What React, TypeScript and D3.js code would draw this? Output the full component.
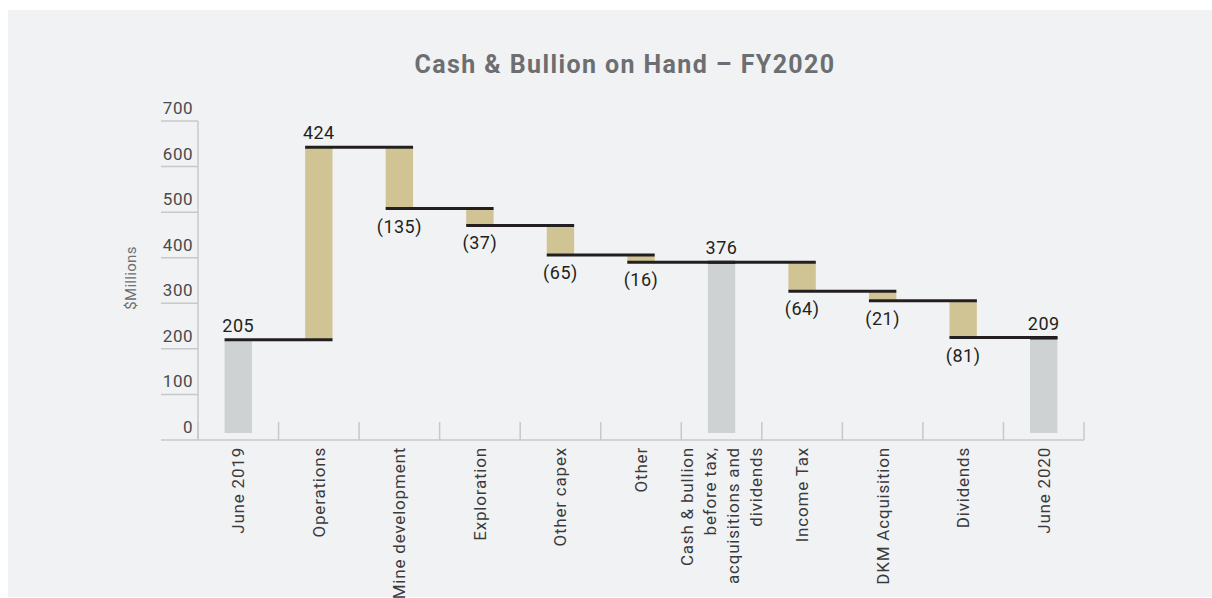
import React from "react";
import * as d3 from "d3";

const categories = [
  "June 2019",
  "Operations",
  "Mine development",
  "Exploration",
  "Other capex",
  "Other",
  "Cash & bullion|before tax,|acquisitions and|dividends",
  "Income Tax",
  "DKM Acquisition",
  "Dividends",
  "June 2020",
];
const values = [205, 424, -135, -37, -65, -16, 376, -64, -21, -81, 209];
const isTotal = [true, false, false, false, false, false, true, false, false, false, true];
const yTicks = [0, 100, 200, 300, 400, 500, 600, 700];

const W = 1212;
const H = 598;
const FONT = "Roboto, 'Noto Sans', sans-serif";

export default function App() {
  const x = d3.scaleBand<string>().domain(categories).range([198, 1084]).padding(0);
  const bw = x.bandwidth();
  const barW = bw * 0.34;
  const yAxis = d3.scaleLinear().domain([0, 700]).range([440, 121]);
  const y = d3.scaleLinear().domain([0, 700]).range([433, 433 - 0.4543 * 700]);

  let running = 0;
  const bars = categories.map((c, i) => {
    const v = values[i];
    let start: number, end: number;
    if (isTotal[i]) {
      start = 0;
      end = v;
    } else {
      start = running;
      end = running + v;
    }
    running = end;
    const cx = (x(c) as number) + bw / 2;
    return { c, v, start, end, cx, left: cx - barW / 2, right: cx + barW / 2, total: isTotal[i] };
  });

  const boundaries = categories.map((c) => x(c) as number).concat([x.range()[1]]);

  return (
    <div style={{ position: "absolute", left: 0, top: 0 }}>
      <svg width={W} height={H} style={{ display: "block" }}>
        <rect x={0} y={0} width={W} height={H} fill="#ffffff" />
        <rect x={8} y={10} width={W - 8} height={587} fill="#f1f2f4" />
        <text
          x={625}
          y={73}
          textAnchor="middle"
          fontFamily={FONT}
          fontWeight={700}
          fontSize={25}
          letterSpacing={1.4}
          fill="#6d6e71"
        >
          Cash &amp; Bullion on Hand – FY2020
        </text>

        {/* y axis */}
        <line x1={198} x2={198} y1={yAxis(700)} y2={440} stroke="#c6c8ca" strokeWidth={1.5} />
        {yTicks.map((t) => (
          <g key={t}>
            {t > 0 && (
              <line x1={161} x2={198} y1={yAxis(t)} y2={yAxis(t)} stroke="#c6c8ca" strokeWidth={1.5} />
            )}
            <text
              x={193}
              y={yAxis(t) - 7}
              textAnchor="end"
              fontFamily={FONT}
              fontSize={17}
              letterSpacing={0.5}
              fill="#4a4a4c"
            >
              {t}
            </text>
          </g>
        ))}
        <text
          transform={`translate(131,278) rotate(-90)`}
          textAnchor="middle"
          dy="0.35em"
          fontFamily={FONT}
          fontSize={15}
          letterSpacing={0.3}
          fill="#6d6e71"
        >
          $Millions
        </text>

        {/* x axis */}
        <line x1={161} x2={1084} y1={440} y2={440} stroke="#c6c8ca" strokeWidth={1.5} />
        {boundaries.map((b, i) => (
          <line key={i} x1={b} x2={b} y1={422} y2={440} stroke="#c6c8ca" strokeWidth={1.5} />
        ))}

        {/* bars */}
        {bars.map((b) => (
          <rect
            key={b.c}
            x={b.left}
            width={barW}
            y={y(Math.max(b.start, b.end))}
            height={Math.abs(y(b.start) - y(b.end))}
            fill={b.total ? "#cfd2d3" : "#d1c494"}
          />
        ))}

        {/* connectors */}
        {bars.slice(0, -1).map((b, i) => (
          <line
            key={"c" + i}
            x1={b.left}
            x2={bars[i + 1].right}
            y1={y(b.end)}
            y2={y(b.end)}
            stroke="#231f20"
            strokeWidth={3}
          />
        ))}
        <line
          x1={bars[bars.length - 1].left}
          x2={bars[bars.length - 1].right}
          y1={y(bars[bars.length - 1].end)}
          y2={y(bars[bars.length - 1].end)}
          stroke="#231f20"
          strokeWidth={3}
        />

        {/* value labels */}
        {bars.map((b) => {
          const neg = b.v < 0;
          const yy = neg ? y(Math.min(b.start, b.end)) + 24 : y(Math.max(b.start, b.end)) - 8;
          return (
            <text
              key={"l" + b.c}
              x={b.cx}
              y={yy}
              textAnchor="middle"
              fontFamily={FONT}
              fontSize={18}
              letterSpacing={0.5}
              fill="#231f20"
            >
              {neg ? `(${Math.abs(b.v)})` : b.v}
            </text>
          );
        })}

        {/* category labels */}
        {bars.map((b) => {
          const lines = b.c.split("|");
          const gap = 23;
          return lines.map((ln, j) => {
            const lx = b.cx + (j - (lines.length - 1) / 2) * gap;
            return (
              <text
                key={b.c + j}
                transform={`translate(${lx},447) rotate(-90)`}
                textAnchor="end"
                dy="0.35em"
                fontFamily={FONT}
                fontSize={17}
                letterSpacing={0.8}
                fill="#3a3a3c"
              >
                {ln}
              </text>
            );
          });
        })}
      </svg>
    </div>
  );
}
